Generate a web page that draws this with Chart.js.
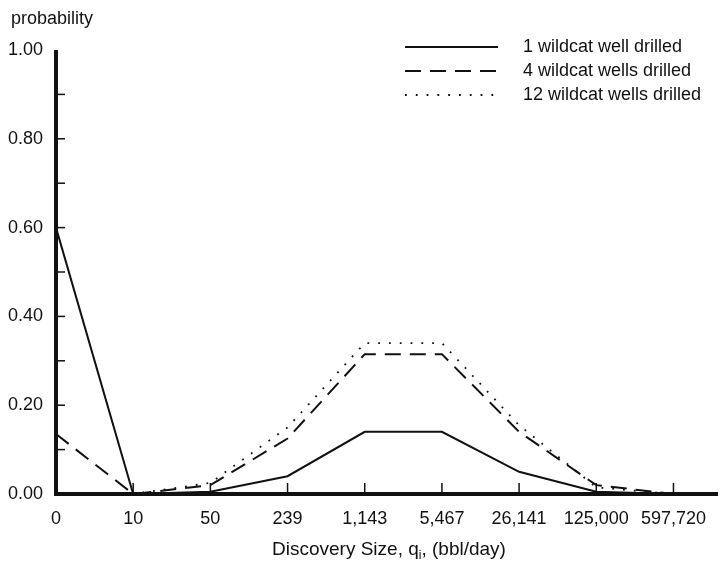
<!DOCTYPE html>
<html>
<head>
<meta charset="utf-8">
<script src="https://cdn.jsdelivr.net/npm/chart.js@4.4.1/dist/chart.umd.min.js"></script>
<style>
  html, body { margin: 0; padding: 0; background: #fff; }
  #wrap { width: 720px; height: 561px; }
</style>
</head>
<body>
<div id="wrap"><canvas id="chart"></canvas></div>
<script>
// discovery size classes (bbl/day) and probability per class
const sizes = ['0', '10', '50', '239', '1,143', '5,467', '26,141', '125,000', '597,720'];
const oneWell = [0.60, 0.00, 0.005, 0.04, 0.14, 0.14, 0.05, 0.005, 0.00];
const fourWells = [0.135, 0.00, 0.02, 0.125, 0.315, 0.315, 0.14, 0.02, 0.00];
const twelveWells = [0.00, 0.00, 0.025, 0.15, 0.34, 0.34, 0.155, 0.015, 0.00];
const seriesNames = ['1 wildcat well drilled', '4 wildcat wells drilled', '12 wildcat wells drilled'];

const FONT = "'Liberation Sans', Arial, Helvetica, sans-serif";
const INK = '#111';

// axes, inward ticks, legend and titles drawn on top of the lines
const frame = {
  id: 'frame',
  afterDatasetsDraw(chart) {
    const { ctx, chartArea: a, scales: { x, y } } = chart;
    ctx.save();
    ctx.strokeStyle = INK;
    ctx.setLineDash([]);

    ctx.lineWidth = 1.5;
    y.ticks.forEach((t, i) => {
      if (i === 0 || i === y.ticks.length - 1) return;
      const py = y.getPixelForTick(i);
      ctx.beginPath(); ctx.moveTo(a.left, py); ctx.lineTo(a.left + 9, py); ctx.stroke();
    });
    x.ticks.forEach((t, i) => {
      if (i === 0) return;
      const px = x.getPixelForTick(i);
      ctx.beginPath(); ctx.moveTo(px, a.bottom); ctx.lineTo(px, a.bottom - 11); ctx.stroke();
    });

    ctx.lineWidth = 4;
    ctx.beginPath();
    ctx.moveTo(a.left, a.top);
    ctx.lineTo(a.left, a.bottom);
    ctx.lineTo(chart.width - 2, a.bottom);
    ctx.stroke();

    // legend
    ctx.font = '18px ' + FONT;
    ctx.fillStyle = INK;
    ctx.textBaseline = 'middle';
    ctx.textAlign = 'left';
    chart.data.datasets.forEach((ds, i) => {
      const ly = 47 + i * 24;
      ctx.lineWidth = ds.borderWidth;
      ctx.setLineDash(ds.borderDash || []);
      ctx.beginPath(); ctx.moveTo(405, ly); ctx.lineTo(498, ly); ctx.stroke();
      ctx.fillText(ds.label, 523, ly);
    });
    ctx.setLineDash([]);

    // y title
    ctx.fillText('probability', 11, 19);

    // x title with subscript
    const parts = ['Discovery Size, q', 'i', ', (bbl/day)'];
    ctx.font = '19px ' + FONT;
    const w0 = ctx.measureText(parts[0]).width;
    ctx.font = '12px ' + FONT;
    const w1 = ctx.measureText(parts[1]).width;
    let tx = 272;
    const ty = 550;
    ctx.font = '19px ' + FONT;
    ctx.fillText(parts[0], tx, ty); tx += w0;
    ctx.font = '12px ' + FONT;
    ctx.fillText(parts[1], tx, ty + 6); tx += w1;
    ctx.font = '19px ' + FONT;
    ctx.fillText(parts[2], tx, ty);
    ctx.restore();
  }
};

new Chart(document.getElementById('chart'), {
  type: 'line',
  data: {
    labels: sizes,
    datasets: [
      { label: seriesNames[0], data: oneWell, borderColor: INK, borderWidth: 2 },
      { label: seriesNames[1], data: fourWells, borderColor: INK, borderWidth: 2, borderDash: [16, 9] },
      { label: seriesNames[2], data: twelveWells, borderColor: INK, borderWidth: 1.8, borderDash: [1.8, 9] }
    ]
  },
  options: {
    responsive: true,
    maintainAspectRatio: false,
    animation: false,
    layout: { padding: { left: 0, top: 50, right: 45, bottom: 0 } },
    elements: { point: { radius: 0 }, line: { tension: 0 } },
    plugins: { legend: { display: false }, tooltip: { enabled: false } },
    scales: {
      x: {
        type: 'category',
        offset: false,
        grid: { display: false, drawTicks: false },
        border: { display: false },
        ticks: { color: INK, font: { family: FONT, size: 18 }, padding: 14, maxRotation: 0, autoSkip: false },
        afterFit: s => { s.height = 67; }
      },
      y: {
        min: 0,
        max: 1,
        grid: { display: false, drawTicks: false },
        border: { display: false },
        ticks: {
          stepSize: 0.1,
          color: INK,
          font: { family: FONT, size: 18 },
          padding: 13,
          callback: (v, i) => (i % 2 === 0 ? Number(v).toFixed(2) : '')
        },
        afterFit: s => { s.width = 56; }
      }
    }
  },
  plugins: [frame]
});
</script>
</body>
</html>
